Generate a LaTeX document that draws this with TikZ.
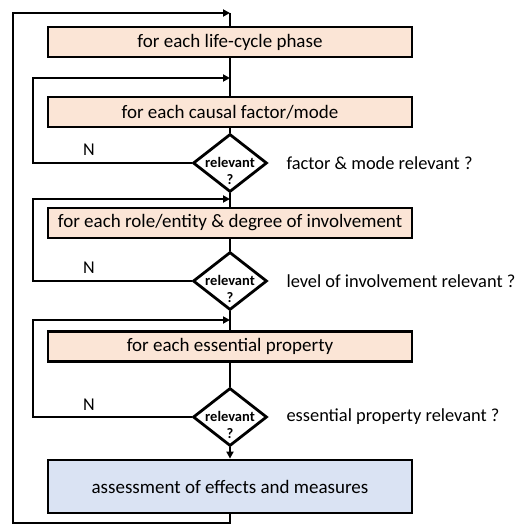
\documentclass[tikz,border=0pt]{standalone}
\usepackage{fontspec}
\setmainfont{Carlito}
\usetikzlibrary{shapes.geometric,arrows.meta}
\definecolor{peach}{HTML}{FBE5D6}
\definecolor{paleblue}{HTML}{DAE3F3}
\tikzset{
  flow/.style={line width=2.8pt, line join=miter},
  arr/.style={flow, -{Triangle[length=7pt,width=7pt]}},
  stepbox/.style={draw, line width=2.8pt, fill=peach, minimum width=364pt,
    minimum height=30pt, inner sep=0pt, font=\fontsize{19}{22}\selectfont},
  endbox/.style={stepbox, fill=paleblue, minimum height=53pt},
  decision/.style={draw, diamond, line width=2.8pt, fill=white, minimum width=74pt,
    minimum height=58pt, aspect=1.28, inner sep=0pt},
  dtext/.style={align=center, inner sep=0pt,
    font=\fontsize{14.5}{17}\selectfont\bfseries},
  note/.style={anchor=west, font=\fontsize{18.4}{22}\selectfont},
  nlabel/.style={font=\fontsize{18}{22}\selectfont}
}
\begin{document}
\begin{tikzpicture}[x=1pt,y=-1pt]
\useasboundingbox (0,0) rectangle (522,527);

% process steps
\node[stepbox] (phase) at (230,42) {for each life-cycle phase};
\node[stepbox] (cause) at (230,112) {for each causal factor/mode};
\node[decision] (d1) at (230,163) {};
\node[stepbox] (role) at (230,223) {for each role/entity \& degree of involvement};
\node[decision] (d2) at (230,281) {};
\node[stepbox] (prop) at (230,346.5) {for each essential property};
\node[decision] (d3) at (230,417) {};
\node[endbox] (assess) at (230,486.5) {assessment of effects and measures};

% decision texts
\node[dtext] (t1) at ([yshift=-8pt]d1.center) {relevant\\?};
\node[dtext] (t2) at ([yshift=-8pt]d2.center) {relevant\\?};
\node[dtext] (t3) at ([yshift=-8pt]d3.center) {relevant\\?};

% questions beside the decisions
\node[note] (q1) at (283,163) {factor \& mode relevant ?};
\node[note] (q2) at (283,281) {level of involvement relevant ?};
\node[note] (q3) at (283,417) {essential property relevant ?};

% join points on the main line
\coordinate (top) at (230,13);
\coordinate (j1) at (230,78);
\coordinate (j2) at (230,199);
\coordinate (j3) at (230,320);
\coordinate (bot) at (230,523);

% main line
\draw[flow] (top) -- (phase.north);
\draw[flow] (phase.south) -- (cause.north);
\draw[flow] (cause.south) -- (d1.north);
\draw[flow] (d1.south) -- (role.north);
\draw[flow] (role.south) -- (d2.north);
\draw[flow] (d2.south) -- (prop.north);
\draw[flow] (prop.south) -- (d3.north);
\draw[arr] (d3.south) -- (assess.north);

% outer loop
\draw[arr] (assess.south) -- (bot) -- (13,523) -- (13,13) -- (top);

% inner loops on "N"
\draw[arr] (d1.west) -- (33,163) -- (33,78) -- (j1);
\draw[arr] (d2.west) -- (33,281) -- (33,199) -- (j2);
\draw[arr] (d3.west) -- (33,417) -- (33,320) -- (j3);

\node[nlabel] (n1) at (89,150) {N};
\node[nlabel] (n2) at (89,268) {N};
\node[nlabel] (n3) at (89,405) {N};
\end{tikzpicture}
\end{document}
